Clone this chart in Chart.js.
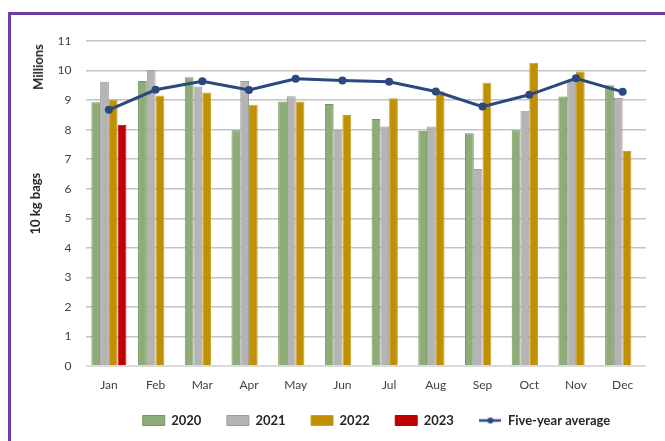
<!DOCTYPE html>
<html>
<head>
<meta charset="utf-8">
<script src="https://cdn.jsdelivr.net/npm/chart.js@4.4.1/dist/chart.umd.min.js"></script>
<style>
    html, body { margin: 0; padding: 0; background: #fff; overflow: hidden; width: 665px; height: 441px; }
    #frame { position: absolute; left: 8px; top: 12px; width: 720px; height: 480px; border: 3px solid #6b3fa0; box-sizing: border-box; }
    #chart { position: absolute; left: 11px; top: 15px; }
    #millions { position: absolute; left: 38px; top: 67px; transform: translate(-50%, -50%) rotate(-90deg); font: bold 13px Lato, sans-serif; color: #262626; white-space: nowrap; }
</style>
</head>
<body>
<div id="frame"></div>
<canvas id="chart" width="654" height="445"></canvas>
<div id="millions">Millions</div>
<script>
// datos (millones de bolsas de 10 kg)
const months = ['Jan', 'Feb', 'Mar', 'Apr', 'May', 'Jun', 'Jul', 'Aug', 'Sep', 'Oct', 'Nov', 'Dec'];
const yTicks = [0, 1, 2, 3, 4, 5, 6, 7, 8, 9, 10, 11];
const bags2020 = [8.93, 9.65, 9.77, 7.98, 8.95, 8.87, 8.36, 7.96, 7.88, 7.98, 9.12, 9.50];
const bags2021 = [9.62, 10.02, 9.46, 9.65, 9.13, 8.00, 8.11, 8.11, 6.67, 8.64, 9.69, 9.07];
const bags2022 = [9.02, 9.16, 9.26, 8.84, 8.95, 8.50, 9.06, 9.30, 9.59, 10.26, 9.97, 7.28];
const bags2023 = [8.17, null, null, null, null, null, null, null, null, null, null, null];
const fiveYearAvg = [8.67, 9.35, 9.64, 9.34, 9.72, 9.66, 9.62, 9.29, 8.78, 9.18, 9.74, 9.28];

const LEGEND_DX = 41.5;
const LEGEND_DY = -8;
const FONT = 'Lato';

// icono de la leyenda para la linea (linea con punto)
const lineIcon = document.createElement('canvas');
lineIcon.width = 22;
lineIcon.height = 8;
(() => {
    const c = lineIcon.getContext('2d');
    c.strokeStyle = '#2a4a7f';
    c.lineWidth = 2.5;
    c.beginPath(); c.moveTo(0, 4); c.lineTo(22, 4); c.stroke();
    c.fillStyle = '#2a4a7f';
    c.beginPath(); c.arc(11, 4, 3, 0, Math.PI * 2); c.fill();
})();

// mueve la leyenda donde esta en el original
const shiftLegend = {
    id: 'shiftLegend',
    afterLayout(chart) {
        const lg = chart.legend;
        lg.left += LEGEND_DX;
        lg.right += LEGEND_DX;
        lg.top += LEGEND_DY;
        lg.bottom += LEGEND_DY;
    }
};

const barSet = (label, data, fill, border) => ({
    type: 'bar', label, data,
    backgroundColor: fill, borderColor: border, borderWidth: 1,
    order: 1
});

new Chart(document.getElementById('chart'), {
    data: {
        labels: months,
        datasets: [
            barSet('2020', bags2020, '#8eab78', '#6f9a55'),
            barSet('2021', bags2021, '#b4b4b5', '#9c9c9c'),
            barSet('2022', bags2022, '#bf9000', '#c9a030'),
            barSet('2023', bags2023, '#c00000', '#c00000'),
            {
                type: 'line', label: 'Five-year average', data: fiveYearAvg,
                borderColor: '#2a4a7f', backgroundColor: '#2a4a7f', borderWidth: 3,
                pointRadius: 4, pointBackgroundColor: '#2a4a7f', pointBorderWidth: 0,
                tension: 0, order: 0
            }
        ]
    },
    options: {
        responsive: false,
        animation: false,
        categoryPercentage: 0.75,
        barPercentage: 1.0,
        layout: { padding: { top: 26, right: 19, bottom: 15, left: 13 } },
        plugins: {
            tooltip: { enabled: false },
            legend: {
                position: 'bottom',
                labels: {
                    usePointStyle: true,
                    pointStyleWidth: 22,
                    boxHeight: 10,
                    padding: 25.5,
                    color: '#262626',
                    font: { family: FONT, size: 13, weight: 'bold' },
                    generateLabels: (chart) => chart.data.datasets.map((ds, i) => ({
                        text: ds.label,
                        fillStyle: ds.backgroundColor,
                        strokeStyle: ds.borderColor,
                        lineWidth: ds.type === 'line' ? 0 : 1,
                        pointStyle: ds.type === 'line' ? lineIcon : 'rect',
                        hidden: false,
                        datasetIndex: i,
                        fontColor: '#262626'
                    }))
                }
            }
        },
        scales: {
            x: {
                grid: { display: false },
                border: { display: false },
                ticks: { color: '#404040', padding: 4, font: { family: FONT, size: 12 } }
            },
            y: {
                min: 0,
                max: 11,
                afterBuildTicks: (axis) => { axis.ticks = yTicks.map(v => ({ value: v })); },
                border: { display: false },
                grid: {
                    drawTicks: false,
                    lineWidth: (ctx) => ctx.tick && ctx.tick.value === 0 ? 2 : 1.5,
                    color: (ctx) => ctx.tick && ctx.tick.value === 0 ? '#dadada' : '#c4c4c4'
                },
                ticks: { color: '#404040', padding: 14, font: { family: FONT, size: 12 } },
                title: {
                    display: true,
                    text: '10 kg bags',
                    color: '#262626',
                    font: { family: FONT, size: 13, weight: 'bold' },
                    padding: { top: 4, bottom: 0 }
                }
            }
        }
    },
    plugins: [shiftLegend]
});
</script>
</body>
</html>
